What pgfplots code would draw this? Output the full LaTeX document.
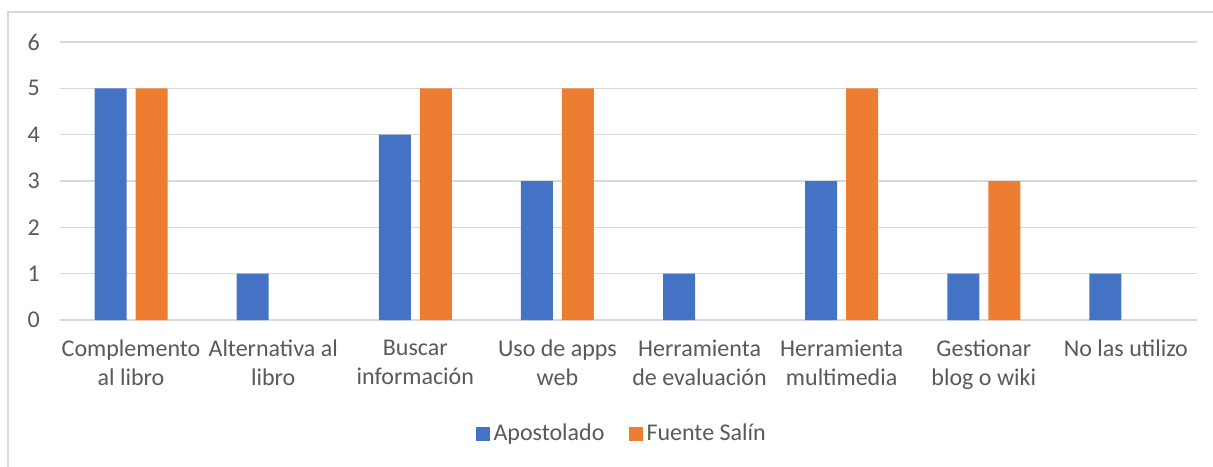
\documentclass[border=0pt]{standalone}
\usepackage{fontspec}
\setmainfont{Carlito}
\usepackage{pgfplots}
\pgfplotsset{compat=1.18}
\definecolor{cblue}{HTML}{4472C4}
\definecolor{corange}{HTML}{ED7D31}
\definecolor{cgrid}{HTML}{D9D9D9}
\definecolor{ctext}{HTML}{595959}
\begin{document}
\fontsize{24pt}{29pt}\selectfont
\begin{tikzpicture}
% 1pt = 1px of the reference; axis box lower-left at pixel (60,320)
\useasboundingbox (-60pt,-146pt) rectangle (1153pt,320pt);
\draw[cgrid, line width=1.5pt] (-52pt,-160pt) -- (-52pt,308pt) -- (1170pt,308pt);
\begin{axis}[
    at={(0pt,0pt)}, anchor=south west,
    scale only axis, width=1137pt, height=278pt,
    ybar=9pt, bar width=32pt,
    xmin=-0.5, xmax=7.5, ymin=0, ymax=6,
    xtick={0,...,7},
    xticklabels={Complemento\\al libro, Alternativa al\\libro, Buscar\\información,
        Uso de apps\\web, Herramienta\\de evaluación, Herramienta\\multimedia,
        Gestionar\\blog o wiki, No las utilizo},
    xticklabel style={align=center, font=\fontsize{24pt}{29pt}\selectfont,
        text=ctext, yshift=-12pt},
    ytick={0,...,6},
    yticklabel style={font=\fontsize{24pt}{29pt}\selectfont, text=ctext, xshift=-12pt},
    /pgf/number format/assume math mode=true,
    major tick length=0pt,
    ymajorgrids, grid style={cgrid, line width=1.5pt},
    axis x line*=bottom, axis y line*=left,
    x axis line style={cgrid, line width=1.5pt, -},
    y axis line style={draw=none},
    legend columns=2,
    legend style={at={(0.494,-0.41)}, anchor=center, draw=none,
        font=\fontsize{24pt}{29pt}\selectfont, text=ctext,
        /tikz/every odd column/.append style={column sep=2pt},
        /tikz/every even column/.append style={column sep=22pt}},
    legend image code/.code={\fill[#1] (0pt,-7pt) rectangle (14pt,7pt);},
]
\addplot[draw=none, fill=cblue] coordinates {(0,5) (1,1) (2,4) (3,3) (4,1) (5,3) (6,1) (7,1)};
\addlegendentry{Apostolado}
\addplot[draw=none, fill=corange] coordinates {(0,5) (2,5) (3,5) (5,5) (6,3)};
\addlegendentry{Fuente Salín}
\end{axis}
\end{tikzpicture}
\end{document}
